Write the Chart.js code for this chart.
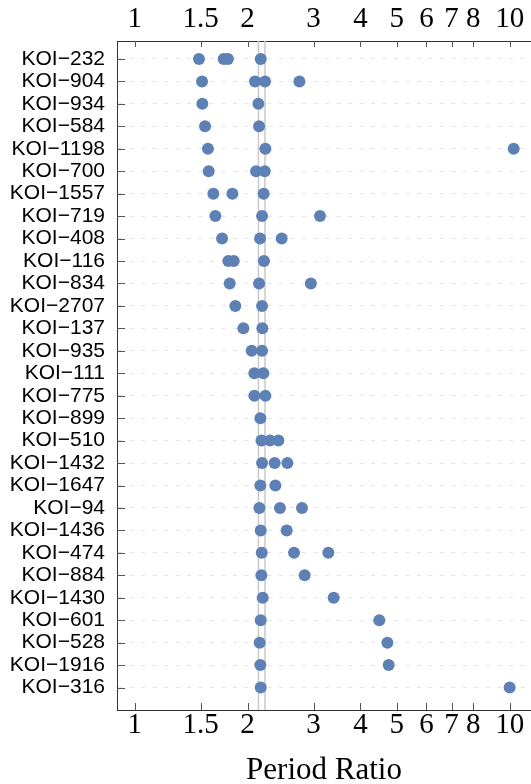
<!DOCTYPE html>
<html>
<head>
<meta charset="utf-8">
<script src="https://cdn.jsdelivr.net/npm/chart.js@4/dist/chart.umd.min.js"></script>
<style>
  html, body { margin: 0; padding: 0; background: #fff; }
  #wrap { width: 531px; height: 784px; position: relative; }
</style>
</head>
<body>
<div id="wrap"><canvas id="myChart"></canvas></div>
<script>
// Sistemas (de arriba a abajo)
var categories = ['KOI−232', 'KOI−904', 'KOI−934', 'KOI−584', 'KOI−1198', 'KOI−700', 'KOI−1557',
    'KOI−719', 'KOI−408', 'KOI−116', 'KOI−834', 'KOI−2707', 'KOI−137', 'KOI−935', 'KOI−111',
    'KOI−775', 'KOI−899', 'KOI−510', 'KOI−1432', 'KOI−1647', 'KOI−94', 'KOI−1436', 'KOI−474',
    'KOI−884', 'KOI−1430', 'KOI−601', 'KOI−528', 'KOI−1916', 'KOI−316'];

// Razones de periodo de cada sistema
var ratios = [
    [1.484, 1.727, 1.773, 2.168],
    [1.512, 2.094, 2.226, 2.75],
    [1.515, 2.137],
    [1.540, 2.146],
    [1.568, 2.231, 10.25],
    [1.575, 2.107, 2.222],
    [1.621, 1.822, 2.208],
    [1.641, 2.186, 3.12],
    [1.710, 2.159, 2.466],
    [1.777, 1.837, 2.212],
    [1.792, 2.146, 2.95],
    [1.855, 2.186],
    [1.949, 2.190],
    [2.051, 2.186],
    [2.085, 2.203],
    [2.085, 2.231],
    [2.163],
    [2.178, 2.295, 2.416],
    [2.186, 2.362, 2.554],
    [2.163, 2.372],
    [2.150, 2.440, 2.794],
    [2.168, 2.543],
    [2.182, 2.660, 3.284],
    [2.177, 2.840],
    [2.195, 3.394],
    [2.168, 4.491],
    [2.154, 4.719],
    [2.163, 4.757],
    [2.168, 10.0]
];

// Lineas verticales de referencia
var refLines = [2.138, 2.226];

// Marcas del eje x
var xTicks = [1, 1.5, 2, 3, 4, 5, 6, 7, 8, 10];

var points = [];
ratios.forEach(function (row, i) {
    row.forEach(function (r) {
        points.push({ x: r, y: i + 1 });
    });
});

var datasets = refLines.map(function (v) {
    return {
        type: 'line',
        data: [{ x: v, y: 0.2 }, { x: v, y: 30 }],
        borderColor: '#c9c9c9',
        borderWidth: 1.5,
        pointRadius: 0,
        order: 2
    };
});
datasets.push({
    type: 'scatter',
    data: points,
    backgroundColor: '#5E81B5',
    borderWidth: 0,
    pointRadius: 6,
    pointHoverRadius: 6,
    order: 1
});

// Marcas hacia adentro
var innerTicks = {
    id: 'innerTicks',
    afterDraw: function (chart) {
        var ctx = chart.ctx;
        var area = chart.chartArea;
        ctx.save();
        ctx.strokeStyle = '#555';
        ctx.lineWidth = 1;
        ['x', 'x2'].forEach(function (id) {
            var s = chart.scales[id];
            s.ticks.forEach(function (t) {
                var px = Math.round(s.getPixelForValue(t.value)) + 0.5;
                ctx.beginPath();
                if (id === 'x') {
                    ctx.moveTo(px, area.bottom);
                    ctx.lineTo(px, area.bottom - 7);
                } else {
                    ctx.moveTo(px, area.top);
                    ctx.lineTo(px, area.top + 6);
                }
                ctx.stroke();
            });
        });
        var ys = chart.scales.y;
        ys.ticks.forEach(function (t) {
            var py = Math.round(ys.getPixelForValue(t.value)) + 0.5;
            ctx.beginPath();
            ctx.moveTo(area.left, py);
            ctx.lineTo(area.left + 8, py);
            ctx.stroke();
        });
        ctx.restore();
    }
};

function xAxis(position, height, pad) {
    return {
        type: 'logarithmic',
        position: position,
        min: 0.897,
        max: 11.4,
        afterBuildTicks: function (scale) {
            scale.ticks = xTicks.map(function (v) { return { value: v }; });
        },
        afterFit: function (scale) {
            scale.height = height;
            scale.paddingLeft = 0;
            scale.paddingRight = 0;
        },
        grid: { drawOnChartArea: false, drawTicks: false },
        border: { display: true, color: '#333', width: 1 },
        ticks: {
            autoSkip: false,
            maxRotation: 0,
            padding: pad,
            color: '#000',
            font: { family: 'Liberation Serif', size: 29 },
            callback: function (value) { return String(value); }
        }
    };
}

var ctx = document.getElementById('myChart').getContext('2d');
var myChart = new Chart(ctx, {
    data: { datasets: datasets },
    plugins: [innerTicks],
    options: {
        responsive: true,
        maintainAspectRatio: false,
        animation: false,
        layout: { padding: 0, autoPadding: false },
        plugins: { legend: { display: false }, tooltip: { enabled: false } },
        scales: {
            x: Object.assign(xAxis('bottom', 74, -2), {
                title: {
                    display: true,
                    text: 'Period Ratio',
                    color: '#000',
                    font: { family: 'Liberation Serif', size: 31 },
                    padding: { top: 0, bottom: -5 }
                }
            }),
            x2: xAxis('top', 41, 4),
            y: {
                type: 'linear',
                reverse: true,
                min: 0.2,
                max: 30,
                afterBuildTicks: function (scale) {
                    scale.ticks = categories.map(function (c, i) { return { value: i + 1 }; });
                },
                afterFit: function (scale) {
                    scale.width = 117;
                    scale.paddingTop = 0;
                    scale.paddingBottom = 0;
                },
                grid: { color: '#e4e4e4', lineWidth: 1, drawTicks: false },
                border: { display: true, color: '#333', width: 1, dash: [4, 7.5] },
                ticks: {
                    autoSkip: false,
                    padding: 12,
                    color: '#000',
                    font: { family: 'Liberation Sans', size: 21 },
                    callback: function (value) { return categories[value - 1]; }
                }
            }
        }
    }
});
</script>
</body>
</html>
